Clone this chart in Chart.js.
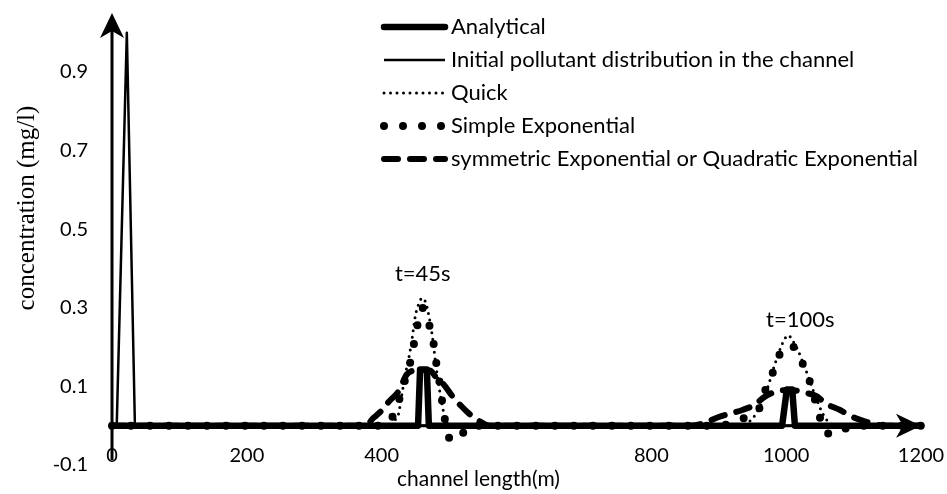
<!DOCTYPE html>
<html>
<head>
<meta charset="utf-8">
<script src="https://cdn.jsdelivr.net/npm/chart.js@4.4.1/dist/chart.umd.min.js"></script>
<style>
  html, body { margin: 0; padding: 0; background: #fff; }
  #wrap { width: 947px; height: 494px; }
</style>
</head>
<body>
<div id="wrap"><canvas id="chart" width="947" height="494"></canvas></div>
<script>
// values: x = channel length (m), y = concentration (mg/l)
const analyticalX = [0, 454, 457, 467, 470, 994, 1001, 1009, 1013, 1200];
const analyticalY = [0, 0, 0.143, 0.143, 0, 0, 0.092, 0.092, 0, 0];

const initialX = [0, 7, 22, 34, 1200];
const initialY = [0, 0, 1.0, 0, 0];

const quickX = [0, 410, 420, 425, 430, 435, 440, 445, 450, 455, 460, 465, 470, 475, 480, 485, 490, 495, 505,
  930, 945, 957, 967, 975, 982, 990, 996, 1003, 1010, 1018, 1026, 1034, 1040, 1047, 1053, 1060, 1075, 1200];
const quickY = [0, 0, 0.015, 0.03, 0.08, 0.13, 0.17, 0.22, 0.28, 0.31, 0.325, 0.315, 0.28, 0.23, 0.16, 0.10, 0.05, 0.015, 0,
  0, 0.01, 0.035, 0.07, 0.11, 0.15, 0.19, 0.215, 0.23, 0.215, 0.19, 0.155, 0.12, 0.09, 0.06, 0.035, 0.015, 0, 0];

const simpleExpX = [0, 405, 415, 421, 430, 437, 445, 450, 455, 460, 465, 470, 476, 480, 485, 489, 493, 497, 505, 512, 520, 530,
  900, 930, 950, 962, 969, 979, 990, 1000, 1008, 1016, 1024, 1034, 1042, 1049, 1056, 1065, 1080, 1095, 1200];
const simpleExpY = [0, 0, 0.02, 0.04, 0.09, 0.13, 0.18, 0.23, 0.27, 0.30, 0.29, 0.26, 0.22, 0.17, 0.12, 0.07, 0.025, -0.02, -0.035, -0.038, -0.02, 0,
  0, 0.015, 0.03, 0.05, 0.09, 0.13, 0.18, 0.2, 0.205, 0.185, 0.16, 0.118, 0.07, 0.028, -0.015, -0.02, -0.018, 0, 0];

const symExpX = [0, 375, 388, 398, 410, 426, 437, 447, 460, 472, 482, 492, 505, 518, 530, 542, 560,
  860, 880, 900, 915, 935, 955, 965, 985, 995, 1010, 1025, 1045, 1060, 1080, 1095, 1110, 1130, 1145, 1200];
const symExpY = [0, 0, 0.02, 0.035, 0.06, 0.09, 0.13, 0.14, 0.142, 0.14, 0.12, 0.105, 0.075, 0.05, 0.03, 0.015, 0,
  0, 0.008, 0.022, 0.03, 0.04, 0.055, 0.07, 0.087, 0.09, 0.09, 0.085, 0.075, 0.055, 0.04, 0.025, 0.015, 0.005, 0, 0];

const seriesNames = ['Analytical', 'Initial pollutant distribution in the channel', 'Quick',
  'Simple Exponential', 'symmetric Exponential or Quadratic Exponential'];
const yTicks = [-0.1, 0.1, 0.3, 0.5, 0.7, 0.9];
const xTicks = [0, 200, 400, 600, 800, 1000, 1200];
const xTickLabels = ['0', '200', '400', '', '800', '1000', '1200'];
const timeLabels = ['t=45s', 't=100s'];
const timeLabelAt = [[461, 0.386], [1021, 0.27]];

const SANS = 'Lato, "Open Sans", sans-serif';

function pts(xs, ys) {
  return xs.map((x, i) => ({ x: x, y: ys[i] }));
}

function arrowHead(ctx, tx, ty, right) {
  ctx.save();
  ctx.translate(tx, ty);
  if (right) ctx.rotate(Math.PI / 2);
  ctx.beginPath();
  ctx.moveTo(0, 0);
  ctx.lineTo(12, 25);
  ctx.lineTo(0, 18);
  ctx.lineTo(-12, 25);
  ctx.closePath();
  ctx.fill();
  ctx.restore();
}

// axes with arrows drawn at x=0 and y=0
const arrowAxes = {
  id: 'arrowAxes',
  beforeDatasetsDraw(chart) {
    const { ctx, scales: { x, y } } = chart;
    const x0 = x.getPixelForValue(0), y0 = y.getPixelForValue(0);
    const xEnd = x.getPixelForValue(x.max), yTop = y.getPixelForValue(y.max);
    ctx.save();
    ctx.strokeStyle = '#000';
    ctx.fillStyle = '#000';
    ctx.lineWidth = 3;
    ctx.beginPath();
    ctx.moveTo(x0, y.getPixelForValue(-0.088));
    ctx.lineTo(x0, yTop + 16);
    ctx.stroke();
    ctx.beginPath();
    ctx.moveTo(x0, y0);
    ctx.lineTo(xEnd - 16, y0);
    ctx.stroke();
    arrowHead(ctx, x0, yTop, false);
    arrowHead(ctx, xEnd, y0, true);
    ctx.restore();
  }
};

// legend with line samples, tick labels of x, axis titles and time labels
const extras = {
  id: 'extras',
  afterDraw(chart) {
    const { ctx, scales: { x, y } } = chart;
    ctx.save();
    chart.data.datasets.forEach((ds, i) => {
      const yy = 27 + i * 33;
      ctx.strokeStyle = '#000';
      ctx.lineWidth = ds.borderWidth;
      ctx.lineCap = ds.borderCapStyle;
      ctx.setLineDash(ds.borderDash);
      ctx.beginPath();
      ctx.moveTo(384, yy);
      ctx.lineTo(445, yy);
      ctx.stroke();
      ctx.setLineDash([]);
      ctx.fillStyle = '#000';
      ctx.font = '22px ' + SANS;
      ctx.textAlign = 'left';
      ctx.textBaseline = 'middle';
      ctx.fillText(ds.label, 451, yy);
    });

    ctx.font = '20px ' + SANS;
    ctx.textAlign = 'center';
    xTicks.forEach((v, i) => {
      ctx.fillText(xTickLabels[i], x.getPixelForValue(v), 456);
    });

    ctx.font = '22px ' + SANS;
    timeLabels.forEach((t, i) => {
      ctx.fillText(t, x.getPixelForValue(timeLabelAt[i][0]), y.getPixelForValue(timeLabelAt[i][1]));
    });

    ctx.font = '21px ' + SANS;
    ctx.textAlign = 'left';
    ctx.fillText('channel length(m)', 397, 479);

    ctx.translate(27, 208);
    ctx.rotate(-Math.PI / 2);
    ctx.textAlign = 'center';
    ctx.font = '25px "Liberation Serif", "Times New Roman", serif';
    ctx.fillText('concentration (mg/l)', 0, 0);
    ctx.restore();
  }
};

const lineBase = {
  pointRadius: 0,
  borderColor: '#000',
  borderCapStyle: 'round',
  borderJoinStyle: 'round',
  cubicInterpolationMode: 'monotone',
  clip: false
};

new Chart(document.getElementById('chart'), {
  type: 'line',
  data: {
    datasets: [
      Object.assign({}, lineBase, { label: seriesNames[0], data: pts(analyticalX, analyticalY),
        borderWidth: 6.5, borderDash: [], cubicInterpolationMode: 'default', tension: 0 }),
      Object.assign({}, lineBase, { label: seriesNames[1], data: pts(initialX, initialY),
        borderWidth: 2.5, borderDash: [], cubicInterpolationMode: 'default', tension: 0, borderCapStyle: 'butt' }),
      Object.assign({}, lineBase, { label: seriesNames[2], data: pts(quickX, quickY),
        borderWidth: 3, borderDash: [0, 6.5] }),
      Object.assign({}, lineBase, { label: seriesNames[3], data: pts(simpleExpX, simpleExpY),
        borderWidth: 8, borderDash: [0, 19] }),
      Object.assign({}, lineBase, { label: seriesNames[4], data: pts(symExpX, symExpY),
        borderWidth: 6, borderDash: [14, 12] })
    ]
  },
  options: {
    responsive: false,
    animation: false,
    devicePixelRatio: 1,
    layout: { padding: { left: 0, right: 26, top: 13, bottom: 0 } },
    plugins: { legend: { display: false }, tooltip: { enabled: false } },
    scales: {
      x: {
        type: 'linear',
        min: 0,
        max: 1200,
        grid: { display: false, drawTicks: false },
        border: { display: false },
        ticks: { display: false },
        afterFit: (s) => { s.height = 29; s.paddingLeft = 0; s.paddingRight = 0; }
      },
      y: {
        min: -0.1,
        max: 1.05,
        grid: { display: false, drawTicks: false },
        border: { display: false },
        afterFit: (s) => { s.width = 112; s.paddingTop = 0; s.paddingBottom = 0; },
        afterBuildTicks: (s) => { s.ticks = yTicks.map(v => ({ value: v })); },
        ticks: {
          padding: 24,
          color: '#000',
          font: { family: SANS, size: 20 },
          callback: (v) => v.toFixed(1)
        }
      }
    }
  },
  plugins: [arrowAxes, extras]
});
</script>
</body>
</html>
